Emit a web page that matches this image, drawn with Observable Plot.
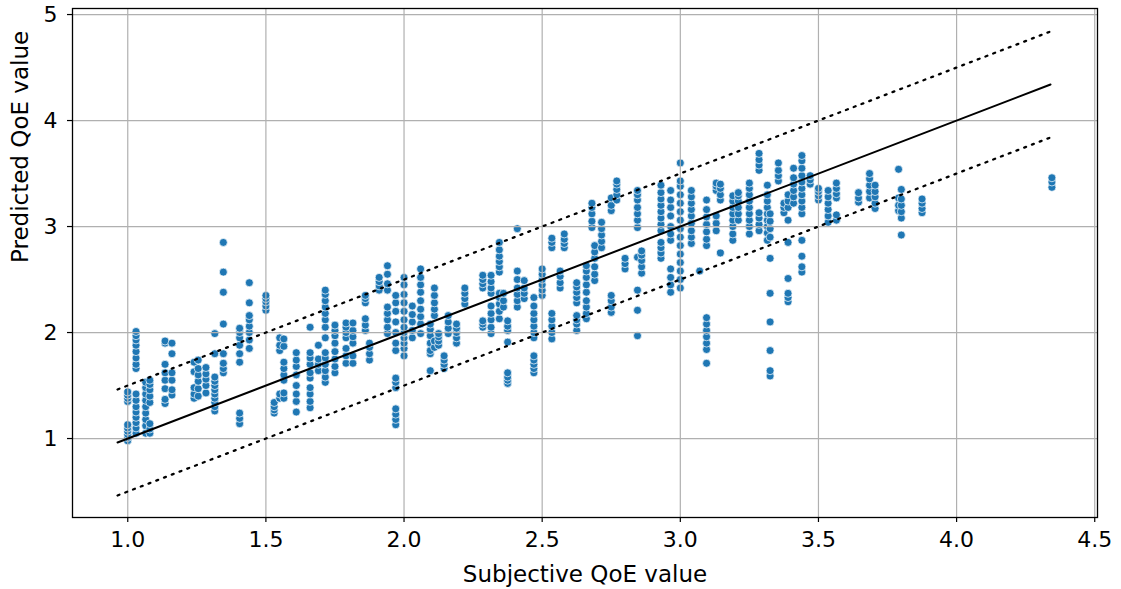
<!DOCTYPE html>
<html>
<head>
<meta charset="utf-8">
<script src="https://cdn.jsdelivr.net/npm/d3@7"></script>
<script src="https://cdn.jsdelivr.net/npm/@observablehq/plot@0.6"></script>
<style>
  html, body { margin: 0; padding: 0; background: #fff; }
  #chart svg { display: block; }
</style>
</head>
<body>
<div id="chart"></div>
<script>
// Subjective QoE value of each column of points
const columnX = [
  1.00, 1.03, 1.065, 1.08, 1.135, 1.16, 1.24, 1.255, 1.283, 1.315, 1.346, 1.405, 1.44,
  1.50, 1.53, 1.55, 1.565, 1.61, 1.66, 1.69, 1.715, 1.75, 1.79, 1.815, 1.86, 1.875,
  1.91, 1.94, 1.97, 2.00, 2.03, 2.06, 2.095, 2.11, 2.125, 2.145, 2.16, 2.19, 2.22,
  2.285, 2.315, 2.345, 2.36, 2.375, 2.41, 2.435, 2.47, 2.50, 2.535, 2.565, 2.58,
  2.625, 2.66, 2.68, 2.69, 2.715, 2.75, 2.77, 2.80, 2.845, 2.86, 2.93, 2.965, 3.00,
  3.04, 3.07, 3.095, 3.13, 3.145, 3.19, 3.21, 3.25, 3.285, 3.315, 3.325, 3.355,
  3.375, 3.39, 3.41, 3.44, 3.47, 3.50, 3.535, 3.565, 3.645, 3.685, 3.705, 3.79,
  3.80, 3.875, 4.345
];
// Predicted QoE values in each column (same order as columnX)
const columnY = [
  [0.98, 1.01, 1.04, 1.07, 1.10, 1.13, 1.35, 1.38, 1.41, 1.44],
  [1.05, 1.10, 1.15, 1.20, 1.25, 1.30, 1.36, 1.42, 1.66, 1.70, 1.76, 1.82, 1.88, 1.93, 1.97, 2.01],
  [1.05, 1.12, 1.18, 1.24, 1.30, 1.36, 1.42, 1.48, 1.53],
  [1.05, 1.09, 1.14, 1.34, 1.40, 1.46, 1.51, 1.55],
  [1.33, 1.37, 1.47, 1.55, 1.62, 1.70, 1.90, 1.92],
  [1.41, 1.46, 1.55, 1.62, 1.80, 1.90],
  [1.38, 1.42, 1.48, 1.63, 1.72],
  [1.40, 1.47, 1.54, 1.60, 1.66, 1.74],
  [1.43, 1.50, 1.56, 1.61, 1.67],
  [1.26, 1.30, 1.34, 1.38, 1.42, 1.46, 1.50, 1.54, 1.58, 1.80, 1.99],
  [1.62, 1.66, 1.71, 1.80, 2.08, 2.38, 2.57, 2.85],
  [1.14, 1.19, 1.24, 1.72, 1.80, 1.88, 1.95, 2.00, 2.04],
  [1.85, 1.93, 2.00, 2.06, 2.12, 2.16, 2.28, 2.47],
  [2.21, 2.25, 2.29, 2.32, 2.35],
  [1.24, 1.27, 1.30, 1.34],
  [1.38, 1.42, 1.83, 1.88, 1.95],
  [1.38, 1.43, 1.55, 1.60, 1.66, 1.72, 1.87, 1.94],
  [1.25, 1.35, 1.42, 1.50, 1.60, 1.68, 1.74, 1.81],
  [1.29, 1.35, 1.42, 1.48, 1.57, 1.62, 1.70, 1.76, 1.81, 2.05],
  [1.64, 1.70, 1.75, 1.88],
  [1.53, 1.58, 1.64, 1.70, 1.76, 1.81, 1.95, 2.05, 2.12, 2.18, 2.24, 2.30, 2.36, 2.40],
  [1.62, 1.68, 1.75, 1.82, 1.90, 1.97, 2.02, 2.07],
  [1.71, 1.78, 1.85, 1.95, 2.00, 2.05, 2.09],
  [1.71, 1.78, 1.90, 1.96, 2.02, 2.09],
  [2.02, 2.07, 2.13, 2.28, 2.32, 2.35],
  [1.74, 1.80, 1.86, 1.90],
  [2.40, 2.44, 2.48, 2.52],
  [1.99, 2.05, 2.12, 2.18, 2.24, 2.40, 2.46, 2.55, 2.63],
  [1.13, 1.18, 1.23, 1.28, 1.48, 1.53, 1.57, 1.83, 1.90, 2.00, 2.10, 2.20, 2.28, 2.35],
  [1.78, 1.85, 1.90, 1.95, 2.00, 2.05, 2.12, 2.20, 2.28, 2.36, 2.45, 2.52],
  [1.95, 2.02, 2.10, 2.17, 2.25],
  [1.99, 2.08, 2.15, 2.22, 2.30, 2.38, 2.45, 2.52, 2.60],
  [1.64, 1.80, 1.83, 1.90, 1.97, 2.03, 2.08],
  [1.86, 1.92, 2.16, 2.22, 2.28, 2.35, 2.42],
  [1.88, 1.92, 1.96, 1.99],
  [1.66, 1.70, 1.74, 1.78],
  [1.99, 2.04, 2.10, 2.16],
  [1.90, 1.95, 2.00, 2.04, 2.08],
  [2.27, 2.32, 2.37, 2.42],
  [2.05, 2.08, 2.11, 2.42, 2.46, 2.50, 2.54],
  [1.99, 2.05, 2.12, 2.18, 2.25, 2.37, 2.42, 2.48, 2.54],
  [2.13, 2.20, 2.27, 2.33, 2.37, 2.57, 2.62, 2.67, 2.72, 2.78, 2.85],
  [2.24, 2.30, 2.37],
  [1.52, 1.55, 1.58, 1.62, 1.91, 2.02, 2.06, 2.11],
  [2.24, 2.30, 2.36, 2.42, 2.50, 2.58, 2.98],
  [2.32, 2.37, 2.42, 2.49],
  [1.62, 1.66, 1.70, 1.74, 1.78, 1.95, 2.00, 2.06, 2.12, 2.18, 2.25, 2.33],
  [2.35, 2.40, 2.45, 2.50, 2.55, 2.60],
  [1.94, 2.00, 2.06, 2.12, 2.18, 2.80, 2.85, 2.89],
  [2.42, 2.47, 2.53, 2.58],
  [2.80, 2.84, 2.88, 2.93],
  [2.02, 2.08, 2.12, 2.16, 2.28, 2.33, 2.38, 2.43, 2.47],
  [2.13, 2.18, 2.24, 2.30, 2.38, 2.45, 2.52, 2.58, 2.63],
  [2.99, 3.05, 3.12, 3.18, 3.22],
  [2.49, 2.55, 2.62, 2.70, 2.76, 2.82],
  [2.80, 2.86, 2.92, 2.98, 3.04],
  [2.19, 2.24, 2.30, 2.35, 3.15, 3.20, 3.27],
  [3.25, 3.30, 3.35, 3.40, 3.43],
  [2.60, 2.65, 2.70],
  [1.97, 2.21, 2.40, 2.71, 2.99, 3.06, 3.12, 3.18, 3.25, 3.30, 3.34],
  [2.56, 2.62, 2.68, 2.73, 2.77],
  [2.70, 2.75, 2.80, 2.85, 2.96, 3.02, 3.08, 3.14, 3.20, 3.26, 3.32, 3.39],
  [2.38, 2.45, 2.52, 2.60, 2.87, 2.93, 3.00, 3.10, 3.18, 3.25, 3.34],
  [2.42, 2.50, 2.58, 2.66, 2.74, 2.82, 2.90, 2.98, 3.06, 3.14, 3.22, 3.30, 3.38, 3.43, 3.60],
  [2.84, 2.90, 2.96, 3.03, 3.10, 3.16, 3.22, 3.28, 3.34],
  [2.58],
  [1.71, 1.84, 1.90, 1.96, 2.02, 2.08, 2.14, 2.82, 2.88, 2.95, 3.02, 3.09, 3.16, 3.25],
  [2.96, 3.03, 3.10, 3.34, 3.38, 3.41],
  [2.75, 3.25, 3.30, 3.36, 3.40],
  [2.87, 2.93, 3.00, 3.06, 3.12, 3.18, 3.24, 3.29],
  [3.06, 3.12, 3.18, 3.24, 3.29, 3.32],
  [2.93, 3.00, 3.06, 3.12, 3.18, 3.24, 3.30, 3.36, 3.41],
  [2.96, 3.02, 3.08, 3.13, 3.53, 3.58, 3.63, 3.69],
  [2.87, 2.94, 3.00, 3.06, 3.12, 3.18, 3.24, 3.30, 3.39],
  [1.59, 1.64, 1.83, 2.10, 2.37, 2.70, 2.90, 2.98, 3.05, 3.12],
  [3.43, 3.48, 3.53, 3.60],
  [3.13, 3.18, 3.22],
  [2.29, 2.33, 2.37, 2.51, 2.85, 3.06, 3.18, 3.24, 3.30],
  [3.22, 3.28, 3.34, 3.40, 3.46, 3.55],
  [2.57, 2.62, 2.72, 2.87, 3.12, 3.18, 3.24, 3.30, 3.36, 3.42, 3.48, 3.55, 3.62, 3.67],
  [3.40, 3.44, 3.48],
  [3.25, 3.29, 3.33, 3.36],
  [3.04, 3.10, 3.16, 3.22, 3.28, 3.34],
  [3.06, 3.11, 3.27, 3.31, 3.36, 3.41],
  [3.23, 3.27, 3.32],
  [3.27, 3.33, 3.39, 3.45, 3.50],
  [3.17, 3.22, 3.28, 3.33, 3.39],
  [3.15, 3.20, 3.27, 3.54],
  [2.92, 3.08, 3.14, 3.20, 3.26, 3.35],
  [3.13, 3.17, 3.22, 3.26],
  [3.37, 3.42, 3.46]
];
// Reference lines: identity and ±0.5 bands over the span of the data
const lineSpan = [0.963, 4.34];
const lineOffsets = [0, 0.5, -0.5];
const xTicks = [1.0, 1.5, 2.0, 2.5, 3.0, 3.5, 4.0, 4.5];
const yTicks = [1, 2, 3, 4, 5];
const xLabel = "Subjective QoE value";
const yLabel = "Predicted QoE value";

const points = columnX.flatMap((x, i) => columnY[i].map(y => ({x, y})));
const refLines = lineOffsets.map(o => lineSpan.map(x => ({x, y: x + o, o})));

const font = "DejaVu Sans, sans-serif";
const chart = Plot.plot({
  width: 1121,
  height: 589,
  marginLeft: 72,
  marginRight: 24,
  marginTop: 8,
  marginBottom: 72,
  style: {fontFamily: font, background: "#fff", color: "#000"},
  x: {domain: [0.8, 4.51]},
  y: {domain: [0.255, 5.057]},
  marks: [
    Plot.dot(points, {x: "x", y: "y", r: 4, fill: "#1f77b4", stroke: "#fff", strokeWidth: 0.7}),
    Plot.gridX(xTicks, {stroke: "#b0b0b0", strokeOpacity: 1, strokeWidth: 1.2}),
    Plot.gridY(yTicks, {stroke: "#b0b0b0", strokeOpacity: 1, strokeWidth: 1.2}),
    Plot.line(refLines[0], {x: "x", y: "y", stroke: "#000", strokeWidth: 2}),
    Plot.line(refLines[1], {x: "x", y: "y", stroke: "#000", strokeWidth: 2.3, strokeDasharray: "2,6.3"}),
    Plot.line(refLines[2], {x: "x", y: "y", stroke: "#000", strokeWidth: 2.3, strokeDasharray: "2,6.3"}),
    Plot.frame({stroke: "#000", strokeWidth: 1.3}),
    Plot.axisX({ticks: xTicks, tickFormat: d => d.toFixed(1), tickSize: 5, tickPadding: 9, fontSize: 22, label: null, stroke: "#000", strokeWidth: 1.2}),
    Plot.axisY({ticks: yTicks, tickFormat: d => String(d), tickSize: 5, tickPadding: 10, fontSize: 22, label: null, stroke: "#000", strokeWidth: 1.2}),
    Plot.text([xLabel], {frameAnchor: "bottom", dy: 64, fontSize: 23, fill: "#000", text: d => d}),
    Plot.text([yLabel], {frameAnchor: "left", dx: -52, rotate: -90, fontSize: 23, fill: "#000", text: d => d})
  ]
});
document.getElementById("chart").appendChild(chart);
</script>
</body>
</html>
